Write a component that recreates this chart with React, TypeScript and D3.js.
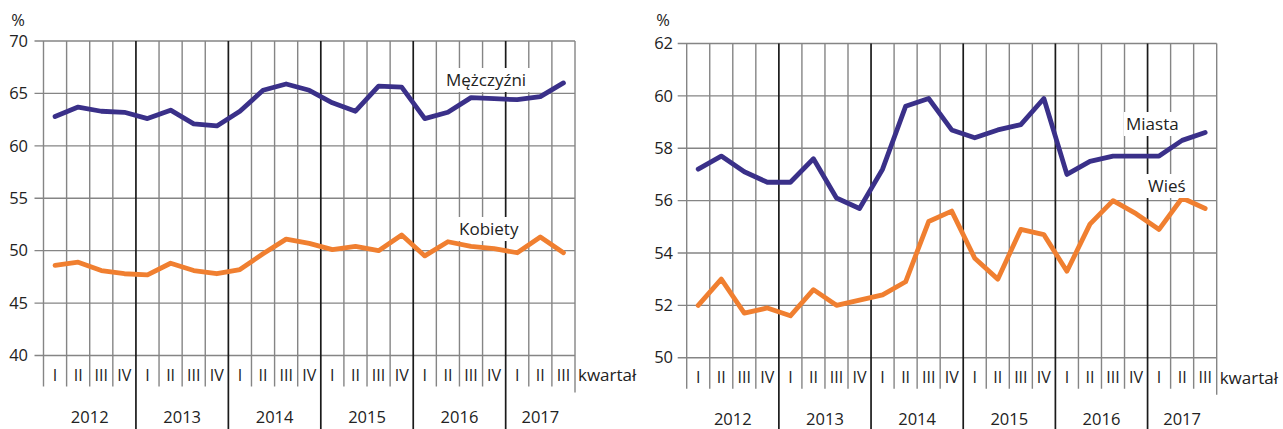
import * as d3 from "d3";

// quarters 2012 I .. 2017 III
const years = ["2012", "2013", "2014", "2015", "2016", "2017"];
const quarterNames = ["I", "II", "III", "IV"];
const quarterCount = 23;

// left panel: by sex
const menValues = [
  62.8, 63.7, 63.3, 63.2, 62.6, 63.4, 62.1, 61.9, 63.3, 65.3, 65.9, 65.3,
  64.1, 63.3, 65.7, 65.6, 62.6, 63.2, 64.6, 64.5, 64.4, 64.7, 66.0,
];
const womenValues = [
  48.6, 48.9, 48.1, 47.8, 47.7, 48.8, 48.1, 47.8, 48.2, 49.7, 51.1, 50.7,
  50.1, 50.4, 50.0, 51.5, 49.5, 50.85, 50.4, 50.2, 49.8, 51.3, 49.8,
];
const leftTicks = [40, 45, 50, 55, 60, 65, 70];

// right panel: town / country
const townValues = [
  57.2, 57.7, 57.1, 56.7, 56.7, 57.6, 56.1, 55.7, 57.2, 59.6, 59.9, 58.7,
  58.4, 58.7, 58.9, 59.9, 57.0, 57.5, 57.7, 57.7, 57.7, 58.3, 58.6,
];
const villageValues = [
  52.0, 53.0, 51.7, 51.9, 51.6, 52.6, 52.0, 52.2, 52.4, 52.9, 55.2, 55.6,
  53.8, 53.0, 54.9, 54.7, 53.3, 55.1, 56.0, 55.5, 54.9, 56.1, 55.7,
];
const rightTicks = [50, 52, 54, 56, 58, 60, 62];

const NAVY = "#3a3089";
const ORANGE = "#f07f30";
const FONT = "'Open Sans', 'Noto Sans', sans-serif";
const TXT = "#222";
const GRID = "#858585";

type Series = { values: number[]; color: string; label: string; lx: number; ly: number; lw: number };

function Panel({
  x0, x1, y0, y1, ticks, series, labelX,
}: {
  x0: number; x1: number; y0: number; y1: number; ticks: number[];
  series: Series[]; labelX: number;
}) {
  const idx = d3.range(quarterCount);
  const x = d3.scaleBand<number>().domain(idx).range([x0, x1]).padding(0);
  const y = d3
    .scaleLinear()
    .domain([ticks[0], ticks[ticks.length - 1]])
    .range([y1, y0]);
  const line = d3
    .line<number>()
    .x((_, i) => (x(i) as number) + x.bandwidth() / 2)
    .y((d) => y(d));
  const bottomGrid = y1 + 31;
  const bw = x.bandwidth();

  return (
    <g fontFamily={FONT}>
      <text x={labelX - 3} y={26} fontSize={16.5} fill={TXT} textAnchor="end">
        %
      </text>
      {ticks.map((t) => (
        <g key={t}>
          <line x1={x0 - 9} x2={x1} y1={y(t)} y2={y(t)} stroke={GRID} strokeWidth={1.4} />
          <text x={labelX} y={y(t)} dy="0.35em" fontSize={16.5} fill={TXT} textAnchor="end">
            {t}
          </text>
        </g>
      ))}
      {d3.range(quarterCount + 1).map((i) => {
        const xx = i === quarterCount ? x1 : (x(i) as number);
        const yearLine = i % 4 === 0 && i > 0 && i < quarterCount;
        return (
          <line
            key={i}
            x1={xx}
            x2={xx}
            y1={y0}
            y2={yearLine ? 429 : i === quarterCount ? bottomGrid + 6 : bottomGrid}
            stroke={yearLine ? "#1a1a1a" : GRID}
            strokeWidth={yearLine ? 1.7 : 1.4}
          />
        );
      })}
      {idx.map((i) => (
        <text
          key={i}
          x={(x(i) as number) + bw / 2}
          y={y1 + 20}
          dy="0.35em"
          fontSize={16}
          fill={TXT}
          textAnchor="middle"
        >
          {quarterNames[i % 4]}
        </text>
      ))}
      <text x={x1 + 3} y={y1 + 20} dy="0.35em" fontSize={17} fill={TXT}>
        kwartał
      </text>
      {years.map((yr, k) => {
        const a = x(k * 4) as number;
        const b = Math.min(x1, a + 4 * bw);
        return (
          <text key={yr} x={(a + b) / 2} y={y1 + 62} dy="0.35em" fontSize={16.5} fill={TXT} textAnchor="middle">
            {yr}
          </text>
        );
      })}
      {series.map((s) => (
        <path
          key={s.label}
          d={line(s.values) || ""}
          fill="none"
          stroke={s.color}
          strokeWidth={4.8}
          strokeLinejoin="round"
          strokeLinecap="round"
        />
      ))}
      {series.map((s) => (
        <g key={s.label + "l"}>
          <rect x={s.lx - 2} y={s.ly - 12} width={s.lw + 4} height={24} fill="white" />
          <text x={s.lx} y={s.ly} dy="0.35em" fontSize={17} fill={TXT}>
            {s.label}
          </text>
        </g>
      ))}
    </g>
  );
}

export default function App() {
  return (
    <svg
      width={1283}
      height={429}
      style={{ position: "absolute", left: 0, top: 0, background: "white" }}
    >
      <Panel
        x0={43.5}
        x1={575}
        y0={41}
        y1={355.5}
        ticks={leftTicks}
        labelX={28}
        series={[
          { values: menValues, color: NAVY, label: "Mężczyźni", lx: 446, ly: 80, lw: 82 },
          { values: womenValues, color: ORANGE, label: "Kobiety", lx: 459, ly: 229, lw: 62 },
        ]}
      />
      <Panel
        x0={686.7}
        x1={1216.7}
        y0={43.5}
        y1={357.7}
        ticks={rightTicks}
        labelX={673}
        series={[
          { values: townValues, color: NAVY, label: "Miasta", lx: 1126, ly: 124, lw: 55 },
          { values: villageValues, color: ORANGE, label: "Wieś", lx: 1148, ly: 186, lw: 38 },
        ]}
      />
    </svg>
  );
}
